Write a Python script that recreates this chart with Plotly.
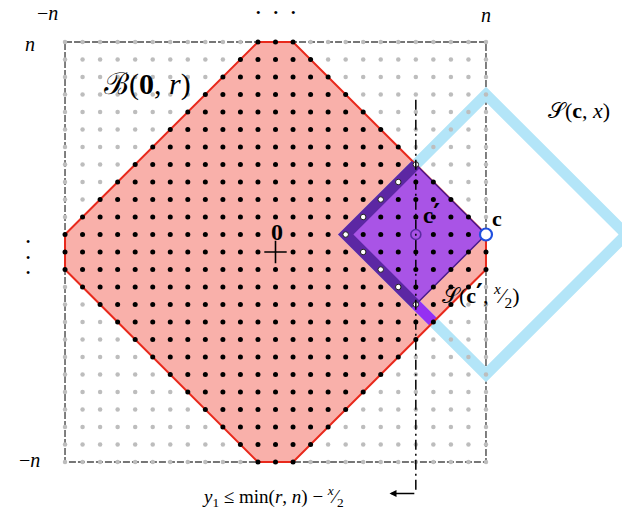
import numpy as np
import plotly.graph_objects as go

# ---- data (diagram parameters) ----
n = 12                 # half side of the box [-n, n]^2
r = 13                 # radius of the l1 ball B(0, r)
c_pt = [12, 1]         # point c
x_rad = 8              # radius x of S(c, x)
bound_x = 8            # dash-dot bound line x = c_x - x/2
bound_y = [8.7, -13.8] # vertical extent of bound line
arrow_end_x = 6.5
tick_labels = ["\u2212<i>n</i>", "<i>n</i>", "<i>n</i>", "\u2212<i>n</i>"]

# ---- derived geometry ----
h = x_rad / 2
cp = [c_pt[0] - h, c_pt[1]]          # c'
d = r - n
ball_x = [-d, d, n, n, d, -d, -n, -n, -d]
ball_y = [n, n, d, -d, -n, -n, -d, d, n]

W = 0.44  # half band width in l1 units (style)

def diamond(cx, cy, R):
    return [cx - R, cx, cx + R, cx, cx - R], [cy, cy + R, cy, cy - R, cy]

def sd(s, dd):
    return ((s + dd) / 2, (s - dd) / 2)

fig = go.Figure()
BLUE = "#b3e5f8"
SALMON = "#f9b0aa"
RED = "#e8291c"
PURPLE = "#a954e6"
DARK = "#5c27a3"
BRIGHT = "#9530f2"
FONT = "Liberation Serif, DejaVu Serif, serif"
PRIME = "<span style='font-family:DejaVu Sans;font-size:26px;font-weight:bold'>\u2032</span>"

# box border
fig.add_trace(go.Scatter(x=[-n, n, n, -n, -n], y=[n, n, -n, -n, n], mode="lines",
                         line=dict(color="#4a4a4a", width=1.4, dash="7px,2px"), hoverinfo="skip"))

# red ball fill
fig.add_trace(go.Scatter(x=ball_x, y=ball_y, mode="lines", fill="toself", fillcolor=SALMON,
                         line=dict(width=0), hoverinfo="skip"))

# blue ring S(c, x): outer then inner reversed
ox, oy = diamond(c_pt[0], c_pt[1], x_rad + W)
ix, iy = diamond(c_pt[0], c_pt[1], x_rad - W)
ring_x = ox + ix[::-1] + [ox[0]]
ring_y = oy + iy[::-1] + [oy[0]]
fig.add_trace(go.Scatter(x=ring_x, y=ring_y, mode="lines", fill="toself", fillcolor=BLUE,
                         line=dict(width=0), hoverinfo="skip"))

# bright piece: ring bottom-left edge between purple edge and red edge
s_lo = c_pt[0] + c_pt[1] - x_rad - W
s_hi = c_pt[0] + c_pt[1] - x_rad + W
d_pur = cp[0] + h - cp[1]   # x - y on purple's bottom-right edge
bp = [sd(s_lo, d_pur), sd(s_hi, d_pur), sd(s_hi, r), sd(s_lo, r), sd(s_lo, d_pur)]
fig.add_trace(go.Scatter(x=[p[0] for p in bp], y=[p[1] for p in bp], mode="lines", fill="toself",
                         fillcolor=BRIGHT, line=dict(width=0), hoverinfo="skip"))

# red outline
fig.add_trace(go.Scatter(x=ball_x, y=ball_y, mode="lines", line=dict(color=RED, width=2),
                         hoverinfo="skip"))

# purple diamond S(c', x/2)
px_, py_ = diamond(cp[0], cp[1], h)
fig.add_trace(go.Scatter(x=px_, y=py_, mode="lines", fill="toself", fillcolor=PURPLE,
                         line=dict(color="#4a1a8c", width=1.5), hoverinfo="skip"))

# dark band on left edges of purple diamond
s_top = cp[0] + cp[1] + h   # x + y on top-right edge
t_out = (x_rad + W) - (c_pt[0] - c_pt[1])
t_in = (x_rad - W) - (c_pt[0] - c_pt[1])
def st(s, t):  # x+y = s, y-x = t
    return ((s - t) / 2, (s + t) / 2)
band = [st(s_top, t_out), (c_pt[0] - x_rad - W, c_pt[1]), sd(s_lo, d_pur),
        sd(s_hi, d_pur), (c_pt[0] - x_rad + W, c_pt[1]), st(s_top, t_in), st(s_top, t_out)]
fig.add_trace(go.Scatter(x=[p[0] for p in band], y=[p[1] for p in band], mode="lines",
                         fill="toself", fillcolor=DARK, line=dict(width=0), hoverinfo="skip"))

# lattice points
gx, gy = np.meshgrid(np.arange(-n, n + 1), np.arange(-n, n + 1))
gx = gx.ravel(); gy = gy.ravel()
inside = (np.abs(gx) + np.abs(gy)) <= r
on_left_edge = ((np.abs(gx - cp[0]) + np.abs(gy - cp[1])) == h) & (gx <= cp[0])
skip = ((gx == 0) & (gy == 0)) | ((gx == 0) & (gy == 1)) | \
       ((gx == c_pt[0]) & (gy == c_pt[1])) | ((gx == cp[0]) & (gy == cp[1]))
gmask = ~inside
bmask = inside & ~on_left_edge & ~skip
fig.add_trace(go.Scatter(x=gx[gmask], y=gy[gmask], mode="markers",
                         marker=dict(color="#bdbdbd", size=4.5), hoverinfo="skip"))
fig.add_trace(go.Scatter(x=gx[bmask], y=gy[bmask], mode="markers",
                         marker=dict(color="black", size=5), hoverinfo="skip"))
fig.add_trace(go.Scatter(x=gx[on_left_edge], y=gy[on_left_edge], mode="markers",
                         marker=dict(color="white", size=5.5, line=dict(color="#222", width=1)),
                         hoverinfo="skip"))

# bound line x = c'_x (dash-dot)
fig.add_trace(go.Scatter(x=[bound_x, bound_x], y=bound_y, mode="lines",
                         line=dict(color="black", width=1.5, dash="10px,4px,2px,4px"),
                         hoverinfo="skip"))

# c' marker, c marker, origin cross
fig.add_trace(go.Scatter(x=[cp[0]], y=[cp[1]], mode="markers",
                         marker=dict(symbol="circle-open", size=10, color="#5a2aa0",
                                     line=dict(width=1.6)), hoverinfo="skip"))
fig.add_trace(go.Scatter(x=[c_pt[0]], y=[c_pt[1]], mode="markers",
                         marker=dict(symbol="circle", size=12, color="white",
                                     line=dict(color="#1f4fe0", width=2.2)), hoverinfo="skip"))
fig.add_trace(go.Scatter(x=[0], y=[0], mode="markers",
                         marker=dict(symbol="cross-thin", size=16, color="black",
                                     line=dict(color="black", width=1.6)), hoverinfo="skip"))

def label(x, y, text, size, **kw):
    fig.add_annotation(x=x, y=y, xref="x", yref="y", text=text, showarrow=False,
                       font=dict(family=FONT, size=size, color="black"), **kw)

label(-n - 1, n + 1.65, tick_labels[0], 20)
label(n, n + 1.55, tick_labels[1], 20)
label(-n - 2, n - 0.1, tick_labels[2], 20)
label(-n - 2, -n + 0.1, tick_labels[3], 20)
label(0, n + 1.7, "\u2022\u2003\u2022\u2003\u2022", 13)
label(-n - 2.1, -0.3, "\u2022<br>\u2022<br>\u2022", 12)
label(-7.3, 9.6, "\u212c(<b>0</b>, <i>r</i>)", 30)
label(17.3, 8.1, "\U0001D4AE(<b>c</b>, <i>x</i>)", 22)
label(12.6, 1.9, "<b>c</b>", 22)
label(8.9, 2.15, "<b>c</b>" + PRIME, 23)
label(0.1, 1.15, "<b>0</b>", 24)
label(11.7, -2.45, "\U0001D4AE(<b>c</b>" + PRIME + ", <sup><i>x</i></sup>\u2044<sub>2</sub>)", 22)
label(-0.15, -13.95, "<i>y</i><sub>1</sub> \u2264 min(<i>r</i>, <i>n</i>) \u2212 <sup><i>x</i></sup>\u2044<sub>2</sub>", 19)

# hook arrow at the bottom of the bound line
fig.add_annotation(x=arrow_end_x, y=bound_y[1], ax=bound_x, ay=bound_y[1], xref="x", yref="y",
                   axref="x", ayref="y", text="", showarrow=True, arrowhead=2, arrowsize=1,
                   arrowwidth=1.4, arrowcolor="black")

fig.update_layout(
    width=622, height=510, margin=dict(l=0, r=0, t=0, b=0),
    paper_bgcolor="white", plot_bgcolor="white", showlegend=False,
    xaxis=dict(range=[-275.5 / 17.54, (622 - 275.5) / 17.54], visible=False, fixedrange=True),
    yaxis=dict(range=[-(510 - 252) / 17.5, 252 / 17.5], visible=False, fixedrange=True),
)
fig.write_html("out.html", config={"displayModeBar": False},
               post_script="document.body.style.margin='0';document.body.style.overflow='hidden';")
